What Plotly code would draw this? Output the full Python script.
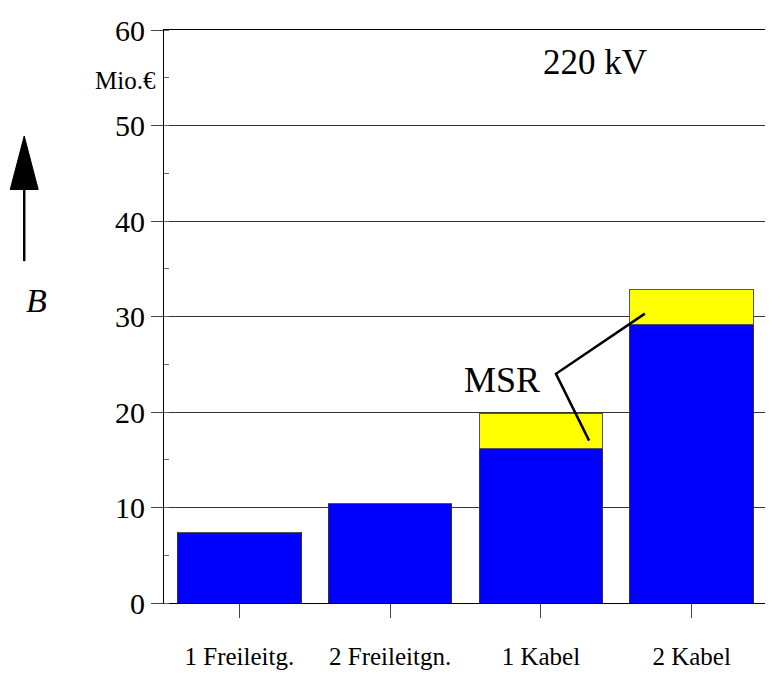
import plotly.graph_objects as go

# Data (Mio. EUR, 220 kV)
categories = ['1 Freileitg.', '2 Freileitgn.', '1 Kabel', '2 Kabel']
base_cost = [7.4, 10.4, 16.2, 29.2]
msr_cost = [0, 0, 3.6, 3.6]
y_ticks = [0, 10, 20, 30, 40, 50, 60]

font_serif = 'Liberation Serif'

fig = go.Figure()

fig.add_trace(go.Bar(
    x=categories,
    y=base_cost,
    marker_color='#0000FF',
    marker_line=dict(color='#333333', width=1),
    showlegend=False,
))
fig.add_trace(go.Bar(
    x=categories,
    y=msr_cost,
    marker_color='#FFFF00',
    marker_line=dict(color='#555555', width=1),
    showlegend=False,
))

# the page adds an 8 px body margin, so the figure is a bit smaller than the window
fig.update_layout(
    barmode='stack',
    bargap=0.18,
    width=765,
    height=667,
    margin=dict(l=156, r=5, t=17, b=69),
    plot_bgcolor='white',
    paper_bgcolor='white',
    font=dict(family=font_serif, color='black'),
)

fig.update_xaxes(
    showline=True, linecolor='black', linewidth=1, mirror=True,
    ticks='outside', ticklen=14, tickcolor='#444444',
    tickfont=dict(size=25, family=font_serif),
    ticklabelstandoff=17,
    showgrid=False,
)
fig.update_yaxes(
    range=[0, 60],
    tickvals=y_ticks,
    showline=True, linecolor='black', linewidth=1, mirror=True,
    ticks='outside', ticklen=12, tickcolor='#444444',
    tickfont=dict(size=30, family=font_serif),
    ticklabeloverflow='allow',
    showgrid=True, gridcolor='#333333', gridwidth=1,
    zeroline=False,
    minor=dict(dtick=5, ticks='inside', ticklen=5, tickcolor='#666666', showgrid=False),
)

# unit label and voltage level
fig.add_annotation(x=0, y=54.7, xref='paper', yref='y', text='Mio.€',
                   showarrow=False, xanchor='right', xshift=-6,
                   font=dict(size=25, family=font_serif))
fig.add_annotation(x=0.715, y=56.6, xref='paper', yref='y', text='220 kV',
                   showarrow=False, xanchor='center',
                   font=dict(size=35, family=font_serif))

# MSR label with leader lines
fig.add_annotation(x=2.01, y=23.4, xref='x', yref='y', text='MSR',
                   showarrow=False, xanchor='right',
                   font=dict(size=36, family=font_serif))
fig.add_shape(type='path', xref='x', yref='y',
              path='M 2.69,30.3 L 2.10,24.0 L 2.32,17.0',
              line=dict(color='black', width=2.5))

# arrow and symbol B on the left
fig.add_shape(type='line', xref='paper', yref='y',
              x0=-0.2318, x1=-0.2318, y0=35.8, y1=43.5,
              line=dict(color='black', width=2.5))
fig.add_shape(type='path', xref='paper', yref='y',
              path='M -0.2550,43.3 L -0.2086,43.3 L -0.2318,48.9 Z',
              fillcolor='black', line=dict(color='black', width=1))
fig.add_annotation(x=-0.2318, y=33.8, xref='paper', yref='y', text='<i>B</i>',
                   showarrow=False, yanchor='top',
                   font=dict(size=34, family=font_serif))

fig.write_html("out.html")
